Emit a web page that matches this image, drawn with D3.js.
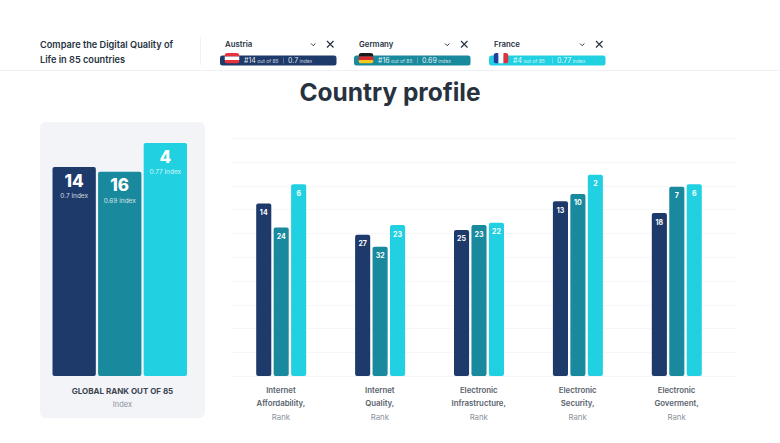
<!DOCTYPE html>
<html><head><meta charset="utf-8">
<script src="https://cdnjs.cloudflare.com/ajax/libs/d3/7.8.5/d3.min.js"></script>
<style>html,body{margin:0;padding:0;background:#fff}svg{display:block}text{font-family:Inter,"Noto Sans",sans-serif}</style>
</head><body><script>
const countries = ["Austria","Germany","France"];
const globalRanks = [14,16,4];
const globalIndex = [0.7,0.69,0.77];
const categories = [["Internet","Affordability,"],["Internet","Quality,"],["Electronic","Infrastructure,"],["Electronic","Security,"],["Electronic","Goverment,"]];
const austriaRanks = [14,27,25,13,18];
const germanyRanks = [24,32,23,10,7];
const franceRanks = [6,23,22,2,6];
const seriesRanks = [austriaRanks,germanyRanks,franceRanks];
const colors = ["#1e3a6b","#198a9d","#22d1e1"];
const gridTicks = d3.range(0,11);

const svg = d3.select("body").append("svg").attr("width",780).attr("height",443);
const ink = "#27323f";

// header
svg.append("line").attr("x1",0).attr("x2",780).attr("y1",70.5).attr("y2",70.5).attr("stroke","#f0f1f4");
svg.append("line").attr("x1",200.5).attr("x2",200.5).attr("y1",37).attr("y2",65).attr("stroke","#f0f1f4");
["Compare the Digital Quality of","Life in 85 countries"].forEach((t,i)=>
  svg.append("text").attr("x",40).attr("y",48+i*14.5).attr("font-size",9.2).attr("font-weight",600).attr("fill",ink).text(t));

const pillX = d3.scaleOrdinal().domain(countries).range([220,354,489]);
const flags = {Austria:["#e8323c","#ffffff","#e8323c"],Germany:["#1b1b1b","#dd2a2a","#f7c91c"]};
countries.forEach((c,i)=>{
  const x = pillX(c), g = svg.append("g").attr("transform",`translate(${x},0)`);
  g.append("text").attr("x",5).attr("y",47).attr("font-size",7.8).attr("font-weight",600).attr("fill",ink).text(c);
  g.append("path").attr("d","M91 43.5l2.2 2.2 2.2-2.2").attr("fill","none").attr("stroke",ink).attr("stroke-width",1);
  g.append("path").attr("d","M107 41l6.5 6.5M113.5 41l-6.5 6.5").attr("fill","none").attr("stroke",ink).attr("stroke-width",1.2);
  g.append("rect").attr("x",0).attr("y",55.5).attr("width",116.5).attr("height",10).attr("rx",2.5).attr("fill",colors[i]);
  const clipId = "flag"+i;
  g.append("clipPath").attr("id",clipId).append("rect").attr("x",4.5).attr("y",53).attr("width",15).attr("height",10.5).attr("rx",3);
  const f = g.append("g").attr("clip-path",`url(#${clipId})`);
  if(c==="France"){
    ["#1f3f9a","#ffffff","#e0323c"].forEach((col,k)=>f.append("rect").attr("x",4.5+k*5).attr("y",53).attr("width",5).attr("height",10.5).attr("fill",col));
  } else {
    flags[c].forEach((col,k)=>f.append("rect").attr("x",4.5).attr("y",53+k*3.5).attr("width",15).attr("height",3.5).attr("fill",col));
  }
  const t = g.append("text").attr("x",24).attr("y",63).attr("fill","#fff").attr("fill-opacity",.9);
  t.append("tspan").attr("font-size",7).text("#"+globalRanks[i]);
  t.append("tspan").attr("font-size",5).attr("fill-opacity",.75).text(" out of 85");
  const d = g.append("text").attr("x",68).attr("y",63).attr("fill","#fff").attr("fill-opacity",.9);
  d.append("tspan").attr("font-size",7).text(globalIndex[i]);
  d.append("tspan").attr("font-size",5).attr("fill-opacity",.75).text(" index");
  g.append("line").attr("x1",63.5).attr("x2",63.5).attr("y1",57.5).attr("y2",63.5).attr("stroke","#fff").attr("stroke-opacity",.45).attr("stroke-width",.6);
});

svg.append("text").attr("x",390).attr("y",101).attr("text-anchor","middle").attr("font-size",24.5).attr("font-weight",700).attr("fill",ink).text("Country profile");

// left panel
svg.append("rect").attr("x",40).attr("y",122).attr("width",165).attr("height",296).attr("rx",6).attr("fill","#f3f4f8");
const gx = d3.scaleBand().domain(countries).range([52.5,187]).paddingInner(0.05);
const gy = d3.scaleLinear().domain([0,101]).range([133.4,376]);
const topRound = (x,y,w,b,r)=>`M${x} ${b-r}V${y+r}Q${x} ${y} ${x+r} ${y}H${x+w-r}Q${x+w} ${y} ${x+w} ${y+r}V${b-r}Q${x+w} ${b} ${x+w-r} ${b}H${x+r}Q${x} ${b} ${x} ${b-r}Z`;
countries.forEach((c,i)=>{
  const x = gx(c), w = gx.bandwidth(), y = gy(globalRanks[i]);
  svg.append("path").attr("d",topRound(x,y,w,gy(101),2)).attr("fill",colors[i]);
  svg.append("text").attr("x",x+w/2).attr("y",y+19.5).attr("text-anchor","middle").attr("font-size",17).attr("font-weight",800).attr("fill","#fff").text(globalRanks[i]);
  svg.append("text").attr("x",x+w/2).attr("y",y+31).attr("text-anchor","middle").attr("font-size",6.5).attr("fill","#fff").attr("fill-opacity",.8).text(globalIndex[i]+" index");
});
svg.append("text").attr("x",122.5).attr("y",394).attr("text-anchor","middle").attr("font-size",8).attr("font-weight",700).attr("fill","#3b4552").text("GLOBAL RANK OUT OF 85");
svg.append("text").attr("x",122.5).attr("y",407).attr("text-anchor","middle").attr("font-size",7.5).attr("fill","#8b929c").text("Index");

// right chart
const gridY = d3.scaleLinear().domain([0,10]).range([376,138]);
svg.append("g").selectAll("line").data(gridTicks).join("line")
  .attr("x1",232).attr("x2",737).attr("y1",d=>Math.round(gridY(d))+.5).attr("y2",d=>Math.round(gridY(d))+.5)
  .attr("stroke","#f6f7f9");
const x0 = d3.scaleBand().domain(d3.range(categories.length)).range([231.5,726]);
const x1 = d3.scaleBand().domain(d3.range(3)).range([24.7,74.7]).paddingInner(0.135);
const y = d3.scaleLinear().domain([0,86]).range([170,376]);
seriesRanks.forEach((vals,s)=>{
  vals.forEach((v,i)=>{
    const x = x0(i)+x1(s), w = x1.bandwidth();
    svg.append("path").attr("d",topRound(x,y(v),w,y(86),2)).attr("fill",colors[s]);
    svg.append("text").attr("x",x+w/2).attr("y",y(v)+11.5).attr("text-anchor","middle").attr("font-size",7).attr("font-weight",700).attr("fill","#fff").text(v);
  });
});
categories.forEach((c,i)=>{
  const cx = x0(i)+x0.bandwidth()/2;
  c.forEach((t,k)=>svg.append("text").attr("x",cx).attr("y",393+k*13.2).attr("text-anchor","middle").attr("font-size",7.8).attr("font-weight",600).attr("fill","#5a636e").text(t));
  svg.append("text").attr("x",cx).attr("y",419.5).attr("text-anchor","middle").attr("font-size",7.8).attr("fill","#8b929c").text("Rank");
});
</script></body></html>
